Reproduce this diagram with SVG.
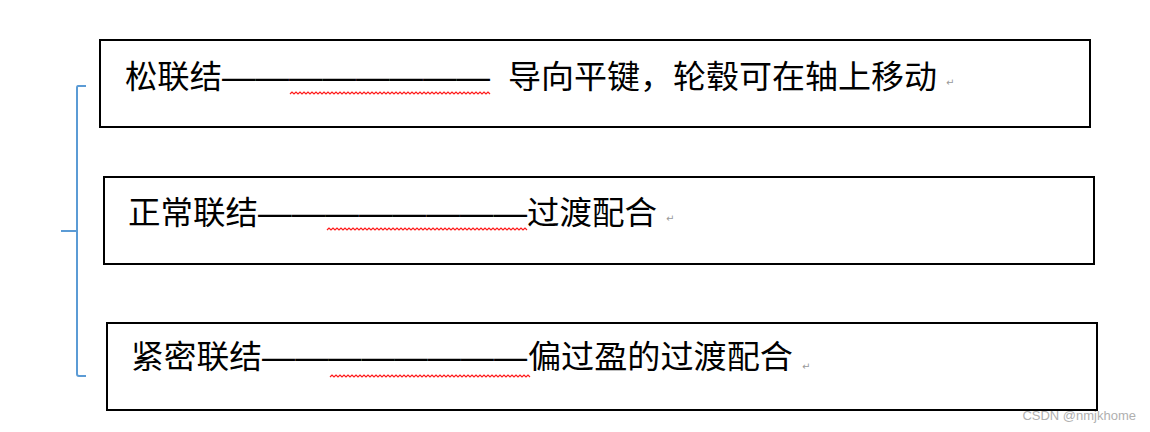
<svg xmlns="http://www.w3.org/2000/svg" width="1150" height="432" viewBox="0 0 1150 432">
<style>
.box{fill:#fff;stroke:#000;stroke-width:2}
.t{font-family:"Noto Sans CJK SC","Liberation Sans",sans-serif;font-size:32px;fill:#000}
.d{font-family:"Liberation Sans",Arial,sans-serif;font-size:33px;fill:#000}
.pm{font-family:"DejaVu Sans",sans-serif;font-size:10px;fill:#999}
.wave{fill:none;stroke:#ff1a1a;stroke-width:1.2}
.br{fill:none;stroke:#5b9bd5;stroke-width:2}
.wm{font-family:"Liberation Sans",Arial,sans-serif;font-size:13px;fill:#b0b0b0}
</style>
<defs>
<path id="wv" class="wave" d="M0,2 l2,-2 2,2 2,-2 2,2 2,-2 2,2 2,-2 2,2 2,-2 2,2
 2,-2 2,2 2,-2 2,2 2,-2 2,2 2,-2 2,2 2,-2 2,2
 2,-2 2,2 2,-2 2,2 2,-2 2,2 2,-2 2,2 2,-2 2,2
 2,-2 2,2 2,-2 2,2 2,-2 2,2 2,-2 2,2 2,-2 2,2
 2,-2 2,2 2,-2 2,2 2,-2 2,2 2,-2 2,2 2,-2 2,2
 2,-2 2,2 2,-2 2,2 2,-2 2,2 2,-2 2,2 2,-2 2,2
 2,-2 2,2 2,-2 2,2 2,-2 2,2 2,-2 2,2 2,-2 2,2
 2,-2 2,2 2,-2 2,2 2,-2 2,2 2,-2 2,2 2,-2 2,2
 2,-2 2,2 2,-2 2,2 2,-2 2,2 2,-2 2,2 2,-2 2,2
 2,-2 2,2 2,-2 2,2 2,-2 2,2 2,-2 2,2 2,-2 2,2"/>
</defs>
<g id="connectors">
<path class="br" d="M86,86 H78 Q77,86 77,88 V231 H61 M77,231 V374 Q77,376 79,376 H86"/>
</g>
<g id="node1">
<rect class="box" x="100" y="40" width="990" height="87"/>
<text class="t" x="125" y="88" textLength="97" lengthAdjust="spacingAndGlyphs">松联结</text>
<text class="d" x="222" y="88" textLength="268" lengthAdjust="spacingAndGlyphs">————————</text>
<text class="t" x="508" y="88" textLength="429" lengthAdjust="spacingAndGlyphs">导向平键，轮毂可在轴上移动</text>
<text class="pm" x="946" y="86">↵</text>
<use href="#wv" x="290" y="92"/>
</g>
<g id="node2">
<rect class="box" x="104" y="177" width="990" height="87"/>
<text class="t" x="128" y="224" textLength="130" lengthAdjust="spacingAndGlyphs">正常联结</text>
<text class="d" x="258" y="224" textLength="269" lengthAdjust="spacingAndGlyphs">————————</text>
<text class="t" x="527" y="224" textLength="130" lengthAdjust="spacingAndGlyphs">过渡配合</text>
<text class="pm" x="666" y="222">↵</text>
<use href="#wv" x="327" y="228"/>
</g>
<g id="node3">
<rect class="box" x="107" y="323" width="990" height="87"/>
<text class="t" x="131" y="368" textLength="131" lengthAdjust="spacingAndGlyphs">紧密联结</text>
<text class="d" x="262" y="368" textLength="265" lengthAdjust="spacingAndGlyphs">————————</text>
<text class="t" x="528" y="368" textLength="265" lengthAdjust="spacingAndGlyphs">偏过盈的过渡配合</text>
<text class="pm" x="802" y="370">↵</text>
<use href="#wv" x="330" y="375"/>
</g>
<text class="wm" x="1136" y="420" text-anchor="end">CSDN @nmjkhome</text>
</svg>
